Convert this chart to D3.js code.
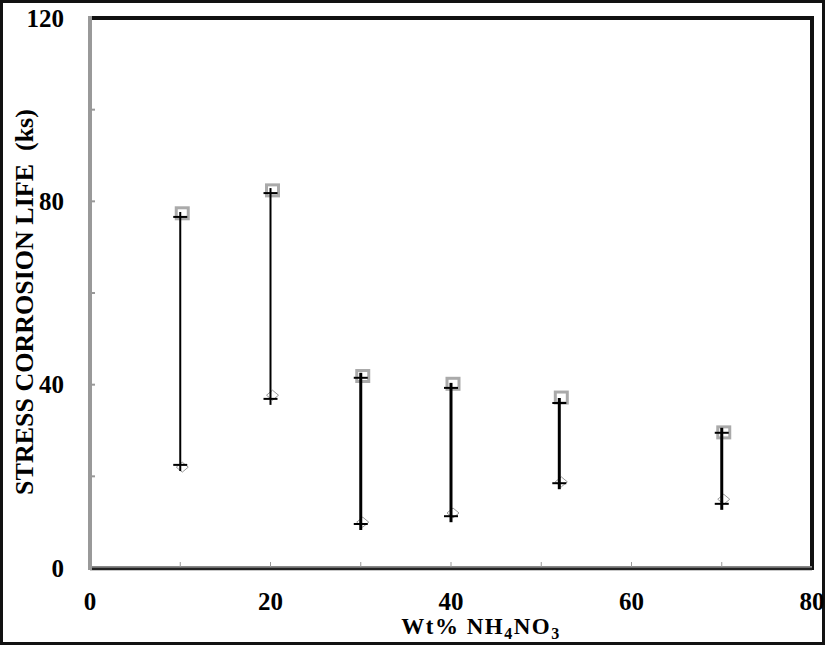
<!DOCTYPE html>
<html>
<head>
<meta charset="utf-8">
<script src="https://d3js.org/d3.v7.min.js"></script>
<style>
  body { margin: 0; background: #fff; }
  text { font-family: "Liberation Serif", "Times New Roman", serif; font-weight: bold; fill: #000; }
</style>
</head>
<body>
<div id="chart"></div>
<script>
// concentration (wt% NH4NO3) and stress corrosion life ranges (ks)
var conc = [10, 20, 30, 40, 52, 70];
var lifeHigh = [76.6, 81.8, 41.5, 39.3, 36.0, 29.5];
var lifeLow = [22.5, 36.9, 9.6, 11.3, 18.5, 14.0];
var markHigh = [77.5, 82.5, 42.0, 40.3, 37.3, 29.7];
var markLow = [22.0, 37.7, 10.0, 12.0, 18.8, 15.0];
var barWeight = [2, 2, 3, 3, 3, 3];
var xTickLabels = [0, 20, 40, 60, 80];
var yTickLabels = [0, 40, 80, 120];

var W = 825, H = 645;
var margin = {top: 18, right: 12, bottom: 77, left: 90};

var svg = d3.select("#chart").append("svg")
    .attr("width", W)
    .attr("height", H);

// outer frame
svg.append("rect")
    .attr("x", 1.5).attr("y", 1.5)
    .attr("width", W - 3).attr("height", H - 3)
    .attr("fill", "none").attr("stroke", "#111").attr("stroke-width", 3);

var x = d3.scaleLinear().domain([0, 80]).range([margin.left, W - margin.right - 1]);
var y = d3.scaleLinear().domain([0, 120]).range([H - margin.bottom, margin.top]);

// plot border: top and right black, bottom dark, left grey
svg.append("line")
    .attr("x1", x(0)).attr("x2", x(80) + 2)
    .attr("y1", y(120)).attr("y2", y(120))
    .attr("stroke", "#111").attr("stroke-width", 4);
svg.append("line")
    .attr("x1", x(80)).attr("x2", x(80))
    .attr("y1", y(120) - 2).attr("y2", y(0) + 2)
    .attr("stroke", "#111").attr("stroke-width", 4);
svg.append("line")
    .attr("x1", x(0)).attr("x2", x(80))
    .attr("y1", y(0) - 1).attr("y2", y(0) - 1)
    .attr("stroke", "#888").attr("stroke-width", 2);
svg.append("line")
    .attr("x1", x(0)).attr("x2", x(80))
    .attr("y1", y(0) + 1).attr("y2", y(0) + 1)
    .attr("stroke", "#222").attr("stroke-width", 2.5);

// minor ticks
svg.append("g").selectAll("line")
    .data(d3.range(10, 80, 10))
    .join("line")
    .attr("x1", function(d) { return x(d); }).attr("x2", function(d) { return x(d); })
    .attr("y1", y(0) - 1).attr("y2", y(0) - 6)
    .attr("stroke", "#999").attr("stroke-width", 1);

svg.append("g").selectAll("line")
    .data(d3.range(20, 120, 20))
    .join("line")
    .attr("x1", x(0)).attr("x2", x(0) + 5)
    .attr("y1", function(d) { return y(d); }).attr("y2", function(d) { return y(d); })
    .attr("stroke", "#999").attr("stroke-width", 2);

svg.append("line")
    .attr("x1", x(0)).attr("x2", x(0))
    .attr("y1", y(120) - 2).attr("y2", y(0) + 2)
    .attr("stroke", "#999").attr("stroke-width", 4);

// tick labels
svg.append("g").selectAll("text")
    .data(yTickLabels)
    .join("text")
    .attr("x", x(0) - 26)
    .attr("y", function(d) { return y(d); })
    .attr("dy", "0.35em")
    .attr("text-anchor", "end")
    .style("font-size", "25px")
    .text(function(d) { return d; });

svg.append("g").selectAll("text")
    .data(xTickLabels)
    .join("text")
    .attr("x", function(d) { return x(d); })
    .attr("y", y(0) + 42)
    .attr("text-anchor", "middle")
    .style("font-size", "25px")
    .text(function(d) { return d; });

// axis titles
var xt = svg.append("text")
    .attr("x", x(40) + 30)
    .attr("y", H - 11)
    .attr("text-anchor", "middle")
    .style("font-size", "23px")
    .style("letter-spacing", "1.5px");
xt.append("tspan").text("Wt% NH");
xt.append("tspan").attr("dy", 5).style("font-size", "16px").text("4");
xt.append("tspan").attr("dy", -5).text("NO");
xt.append("tspan").attr("dy", 5).style("font-size", "16px").text("3");

svg.append("text")
    .attr("transform", "translate(33," + (y(60) + 9) + ") rotate(-90)")
    .attr("text-anchor", "middle")
    .style("font-size", "26px")
    .attr("xml:space", "preserve")
    .text("STRESS CORROSION LIFE  (ks)");

// grey markers
var marks = svg.append("g");
marks.selectAll("rect")
    .data(conc)
    .join("rect")
    .attr("x", function(d) { return x(d) - 4; })
    .attr("y", function(d, i) { return y(markHigh[i]) - 5; })
    .attr("width", 12).attr("height", 11)
    .attr("fill", "#fff").attr("stroke", "#aaa").attr("stroke-width", 3);

marks.selectAll("path")
    .data(conc)
    .join("path")
    .attr("transform", function(d, i) { return "translate(" + (x(d) + 2) + "," + y(markLow[i]) + ")"; })
    .attr("d", "M-6,0L0,-5L6,0L0,5Z")
    .attr("fill", "#fff").attr("stroke", "#999").attr("stroke-width", 1);

// high-low bars with cross caps
var bars = svg.append("g").selectAll("g")
    .data(conc)
    .join("g");

bars.append("line")
    .attr("x1", function(d) { return x(d); }).attr("x2", function(d) { return x(d); })
    .attr("y1", function(d, i) { return y(lifeHigh[i]) - 5; })
    .attr("y2", function(d, i) { return y(lifeLow[i]) + 6; })
    .attr("stroke", "#000")
    .attr("stroke-width", function(d, i) { return barWeight[i]; });

bars.append("line")
    .attr("x1", function(d) { return x(d) - 7; }).attr("x2", function(d) { return x(d) + 7; })
    .attr("y1", function(d, i) { return y(lifeHigh[i]); })
    .attr("y2", function(d, i) { return y(lifeHigh[i]); })
    .attr("stroke", "#000").attr("stroke-width", 2);

bars.append("line")
    .attr("x1", function(d) { return x(d) - 7; }).attr("x2", function(d) { return x(d) + 7; })
    .attr("y1", function(d, i) { return y(lifeLow[i]); })
    .attr("y2", function(d, i) { return y(lifeLow[i]); })
    .attr("stroke", "#000").attr("stroke-width", 2);
</script>
</body>
</html>
